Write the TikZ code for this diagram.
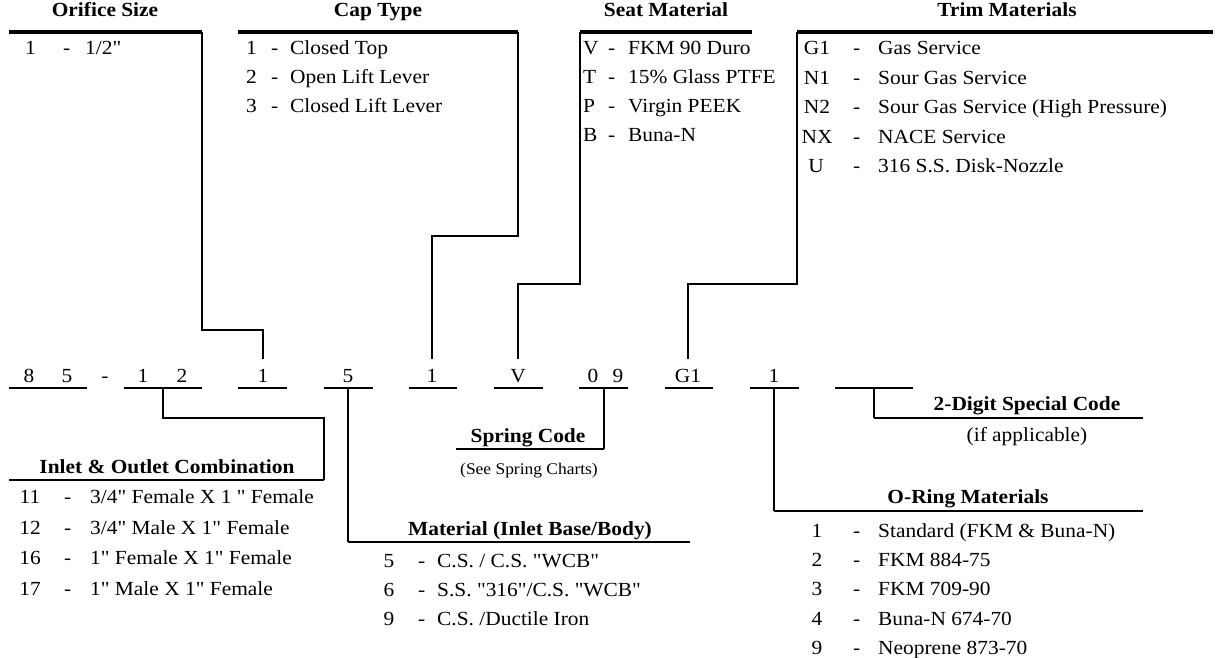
\documentclass[tikz,border=0pt]{standalone}
\usepackage{fontspec}
\newfontfamily\mainf{Liberation Serif}[FakeStretch=1.07]
\newcommand{\fsn}{\mainf\fontsize{20}{24}\selectfont}
\newcommand{\fss}{\mainf\fontsize{16.3}{19}\selectfont}
\tikzset{
  lst/.style={anchor=base west, inner sep=0pt, font=\fsn},
  lstc/.style={anchor=base, inner sep=0pt, font=\fsn},
  hd/.style={anchor=base, inner sep=0pt, font=\fsn\bfseries},
  dig/.style={anchor=base, inner sep=0pt, font=\fsn},
  hline/.style={line width=3.2pt},
  bline/.style={line width=2.7pt},
  cline/.style={line width=2.3pt},
}
\begin{document}
\begin{tikzpicture}[x=1pt,y=-1pt]
\useasboundingbox (0,0) rectangle (1216,658);

% ---------------- code line ----------------
\node[dig] (c8) at (29,382) {8};
\node[dig] (c5a) at (67,382) {5};
\node[dig] (cdash) at (105,382) {-};
\node[dig] (c1a) at (143,382) {1};
\node[dig] (c2) at (182,382) {2};
\node[dig] (c1b) at (263,382) {1};
\node[dig] (c5b) at (348,382) {5};
\node[dig] (c1c) at (432,382) {1};
\node[dig] (cV) at (518,382) {V};
\node[dig] (c0) at (593,382) {0};
\node[dig] (c9) at (618,382) {9};
\node[dig] (cG) at (688,382) {G1};
\node[dig] (c1d) at (774,382) {1};

\coordinate (u1a) at (9,388);   \coordinate (u1b) at (87,388);
\coordinate (u2a) at (124,388); \coordinate (u2b) at (202,388);
\coordinate (u3a) at (238,388); \coordinate (u3b) at (287,388);
\coordinate (u4a) at (324,388); \coordinate (u4b) at (373,388);
\coordinate (u5a) at (409,388); \coordinate (u5b) at (457,388);
\coordinate (u6a) at (494,388); \coordinate (u6b) at (543,388);
\coordinate (u7a) at (579,388); \coordinate (u7b) at (628,388);
\coordinate (u8a) at (665,388); \coordinate (u8b) at (713,388);
\coordinate (u9a) at (750,388); \coordinate (u9b) at (799,388);
\coordinate (u10a) at (835,388); \coordinate (u10b) at (913,388);
\foreach \s in {1,...,10} \draw[cline] (u\s a) -- (u\s b);

% ---------------- top headings ----------------
\node[hd] (hOri) at (105,17) {Orifice Size};
\node[hd] (hCap) at (378,17) {Cap Type};
\node[hd] (hSeat) at (666,17) {Seat Material};
\node[hd] (hTrim) at (1007,17) {Trim Materials};

\coordinate (tOriL) at (9,32);   \coordinate (tOriR) at (202,32);
\coordinate (tCapL) at (238,32); \coordinate (tCapR) at (518,32);
\coordinate (tSeatL) at (580,32); \coordinate (tSeatR) at (752,32);
\coordinate (tTrimL) at (797,32); \coordinate (tTrimR) at (1213,32);

\draw[hline] (tOriL) -- (tOriR);
\draw[hline] (tCapL) -- (tCapR);
\draw[hline] (tSeatL) -- (tSeatR);
\draw[hline] (tTrimL) -- (tTrimR);

\coordinate (jOri) at (263,359);
\coordinate (jCap) at (432,359);
\coordinate (jSeat) at (518,359);
\coordinate (jTrim) at (688,359);

\draw[cline] (tOriR) -- (202,330) -| (jOri);
\draw[cline] (tCapR) -- (518,236) -| (jCap);
\draw[cline] (tSeatL) -- (580,284) -| (jSeat);
\draw[cline] (tTrimL) -- (797,284) -| (jTrim);

% Orifice list
\node[lst] (o1c) at (25,55) {1};
\node[lst] (o1d) at (63,55) {-};
\node[lst] (o1t) at (85,55) {1/2"};

% Cap list
\node[lst] (cp1c) at (246,55) {1};  \node[lst] (cp1d) at (271,55) {-}; \node[lst] (cp1t) at (290,55) {Closed Top};
\node[lst] (cp2c) at (246,84) {2};  \node[lst] (cp2d) at (271,84) {-}; \node[lst] (cp2t) at (290,84) {Open Lift Lever};
\node[lst] (cp3c) at (246,113) {3}; \node[lst] (cp3d) at (271,113) {-}; \node[lst] (cp3t) at (290,113) {Closed Lift Lever};

% Seat list
\node[lst] (s1c) at (583,55) {V};  \node[lst] (s1d) at (608,55) {-};  \node[lst] (s1t) at (628,55) {FKM 90 Duro};
\node[lst] (s2c) at (583,84) {T};  \node[lst] (s2d) at (608,84) {-};  \node[lst] (s2t) at (628,84) {15\% Glass PTFE};
\node[lst] (s3c) at (583,113) {P}; \node[lst] (s3d) at (608,113) {-}; \node[lst] (s3t) at (628,113) {Virgin PEEK};
\node[lst] (s4c) at (583,142) {B}; \node[lst] (s4d) at (608,142) {-}; \node[lst] (s4t) at (628,142) {Buna-N};

% Trim list
\node[lstc] (t1c) at (817,55) {G1};   \node[lst] (t1d) at (853,55) {-};   \node[lst] (t1t) at (878,55) {Gas Service};
\node[lstc] (t2c) at (817,84.5) {N1}; \node[lst] (t2d) at (853,84.5) {-}; \node[lst] (t2t) at (878,84.5) {Sour Gas Service};
\node[lstc] (t3c) at (817,114) {N2};  \node[lst] (t3d) at (853,114) {-};  \node[lst] (t3t) at (878,114) {Sour Gas Service (High Pressure)};
\node[lstc] (t4c) at (817,143.5) {NX};\node[lst] (t4d) at (853,143.5) {-};\node[lst] (t4t) at (878,143.5) {NACE Service};
\node[lstc] (t5c) at (816,173) {U};   \node[lst] (t5d) at (853,173) {-};  \node[lst] (t5t) at (878,173) {316 S.S. Disk-Nozzle};

% ---------------- bottom headings ----------------
\node[hd] (hIn) at (167,473) {Inlet \& Outlet Combination};
\node[hd] (hMat) at (530,535) {Material (Inlet Base/Body)};
\node[hd] (hSpr) at (528,442) {Spring Code};
\node[anchor=base, inner sep=0pt, font=\fss] (hSprN) at (529,474) {(See Spring Charts)};
\node[hd] (hOr) at (968,503) {O-Ring Materials};
\node[hd] (hSp) at (1027,410) {2-Digit Special Code};
\node[anchor=base, inner sep=0pt, font=\fsn] (hSpN) at (1027,441) {(if applicable)};

\coordinate (bIn) at (9,480);
\coordinate (bMat) at (690,542);
\coordinate (bSpr) at (456,449);
\coordinate (bOr) at (1143,511);
\coordinate (bSp) at (1143,418);

\draw[cline] (163,388) -- (163,418) -- (324,418) -- (324,480);
\draw[bline] (324,480) -- (bIn);
\draw[cline] (348,388) -- (348,542);
\draw[bline] (348,542) -- (bMat);
\draw[cline] (604,388) -- (604,449);
\draw[bline] (604,449) -- (bSpr);
\draw[cline] (774,388) -- (774,511);
\draw[bline] (774,511) -- (bOr);
\draw[cline] (874,388) -- (874,418);
\draw[bline] (874,418) -- (bSp);

% Inlet list
\node[lstc] (i1c) at (30,503) {11};   \node[lst] (i1d) at (64,503) {-};   \node[lst] (i1t) at (90,503) {3/4" Female X 1 " Female};
\node[lstc] (i2c) at (30,534) {12};   \node[lst] (i2d) at (64,534) {-};   \node[lst] (i2t) at (90,534) {3/4" Male X 1" Female};
\node[lstc] (i3c) at (30,564.5) {16}; \node[lst] (i3d) at (64,564.5) {-}; \node[lst] (i3t) at (90,564.5) {1" Female X 1" Female};
\node[lstc] (i4c) at (30,595) {17};   \node[lst] (i4d) at (64,595) {-};   \node[lst] (i4t) at (90,595) {1" Male X 1" Female};

% Material list
\node[lstc] (m1c) at (389,567) {5}; \node[lst] (m1d) at (418,567) {-}; \node[lst] (m1t) at (437,567) {C.S. / C.S. "WCB"};
\node[lstc] (m2c) at (389,596) {6}; \node[lst] (m2d) at (418,596) {-}; \node[lst] (m2t) at (437,596) {S.S. "316"/C.S. "WCB"};
\node[lstc] (m3c) at (389,625) {9}; \node[lst] (m3d) at (418,625) {-}; \node[lst] (m3t) at (437,625) {C.S. /Ductile Iron};

% O-ring list
\node[lstc] (r1c) at (817,537) {1}; \node[lst] (r1d) at (853,537) {-}; \node[lst] (r1t) at (878,537) {Standard (FKM \& Buna-N)};
\node[lstc] (r2c) at (817,566) {2}; \node[lst] (r2d) at (853,566) {-}; \node[lst] (r2t) at (878,566) {FKM 884-75};
\node[lstc] (r3c) at (817,595) {3}; \node[lst] (r3d) at (853,595) {-}; \node[lst] (r3t) at (878,595) {FKM 709-90};
\node[lstc] (r4c) at (817,625) {4}; \node[lst] (r4d) at (853,625) {-}; \node[lst] (r4t) at (878,625) {Buna-N 674-70};
\node[lstc] (r5c) at (817,654) {9}; \node[lst] (r5d) at (853,654) {-}; \node[lst] (r5t) at (878,654) {Neoprene 873-70};
\end{tikzpicture}
\end{document}
